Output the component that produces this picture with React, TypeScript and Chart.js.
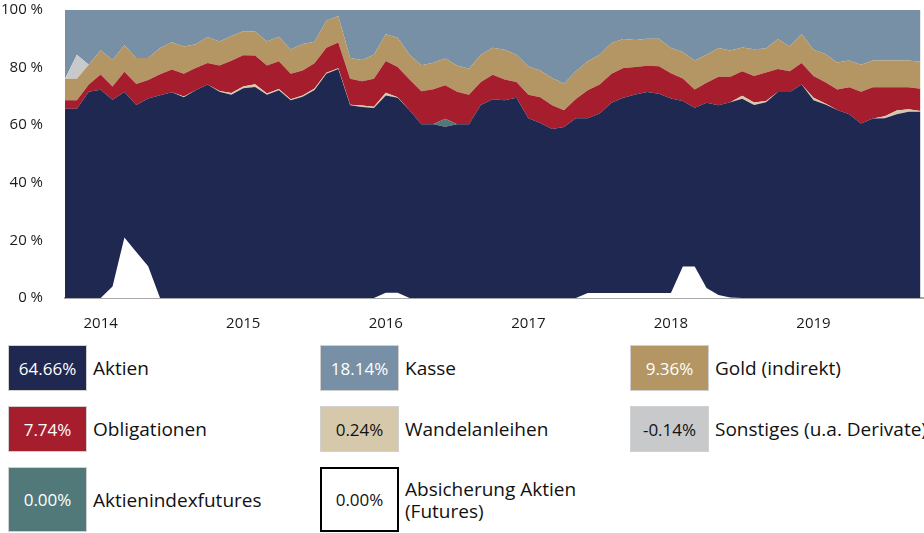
import React, { useEffect, useRef } from 'react';
import { Chart, registerables } from 'chart.js';

Chart.register(...registerables);

// Month-end observations, labelled by the following month start (first = Oct 2013)
const startYear = 2013;
const startMonth = 10;
const monthCount = 73;
const months: string[] = Array.from({ length: monthCount }, (_, i) => {
  const m = startMonth - 1 + i;
  return `${startYear + Math.floor(m / 12)}-${String((m % 12) + 1).padStart(2, '0')}`;
});

const aktien = [
  65.7, 65.7, 71.6, 72.3, 68.8, 71.5, 67.0, 69.3, 70.4, 71.4, 69.7, 72.1, 74.1,
  71.6, 70.6, 72.8, 73.3, 70.6, 72.1, 68.7, 69.9, 72.2, 77.9, 79.5, 66.9,
  66.3, 66.0, 70.3, 69.5, 65.2, 60.3, 60.3, 59.5, 60.3, 60.3, 67.0, 69.0,
  68.7, 69.5, 62.4, 60.8, 58.7, 59.4, 62.4, 62.4, 64.1, 67.8, 69.5, 70.7,
  71.5, 70.9, 69.3, 68.4, 66.1, 67.8, 66.9, 68.0, 69.2, 67.0, 68.0, 71.5,
  71.5, 74.1, 68.7, 67.2, 65.3, 63.8, 60.6, 62.3, 62.4, 63.8, 64.7, 64.66,
];
const wandelanleihen = [
  0, 0, 0, 0, 0, 0, 0, 0, 0, 0, 0.3, 0, 0,
  0.3, 0.6, 0.6, 0.9, 0.4, 0.5, 0.3, 0.4, 0.5, 0.3, 0.3, 0.2,
  0.5, 0.4, 1.0, 0.2, 0, 0, 0, 0, 0, 0, 0, 0,
  0, 0, 0, 0, 0, 0, 0, 0, 0, 0, 0, 0,
  0, 0, 0, 0, 0, 0, 0, 0, 1.0, 0.9, 0.4, 0,
  0, 0, 0.8, 0.3, 0, 0, 0, 0, 0.7, 1.3, 0.8, 0.24,
];
const aktienindexfutures = [
  0, 0, 0, 0, 0, 0, 0, 0, 0, 0, 0, 0, 0,
  0, 0, 0, 0, 0, 0, 0, 0, 0, 0, 0, 0,
  0, 0, 0, 0, 0, 0, 0, 2.7, 0, 0, 0, 0,
  0, 0, 0, 0, 0, 0, 0, 0, 0, 0, 0, 0,
  0, 0, 0, 0, 0, 0, 0, 0, 0, 0, 0, 0,
  0, 0, 0, 0, 0, 0, 0, 0, 0, 0, 0, 0,
];
const obligationen = [
  3.0, 3.0, 2.5, 5.3, 4.6, 7.1, 7.3, 6.4, 7.3, 7.9, 7.9, 7.8, 7.5,
  8.8, 11.2, 10.9, 10.0, 9.7, 9.6, 8.9, 8.7, 8.8, 8.7, 8.9, 9.0,
  8.5, 9.7, 11.0, 10.5, 10.7, 11.5, 12.2, 11.7, 11.3, 10.3, 8.0, 8.5,
  7.2, 5.5, 8.2, 8.9, 8.2, 5.8, 6.7, 9.7, 10.0, 10.1, 10.4, 9.5,
  9.1, 9.6, 8.7, 7.8, 6.3, 6.9, 9.9, 8.8, 8.5, 9.2, 9.9, 8.0,
  7.2, 7.5, 7.6, 7.4, 7.1, 9.4, 11.0, 10.9, 10.1, 8.1, 7.7, 7.74,
];
const gold = [
  7.4, 7.4, 6.9, 8.4, 9.2, 9.2, 9.0, 7.6, 9.1, 9.5, 9.4, 8.2, 9.0,
  8.4, 8.6, 8.3, 8.3, 8.4, 8.5, 8.4, 9.2, 7.5, 9.4, 9.2, 7.2,
  7.3, 8.4, 9.3, 10.2, 8.6, 9.0, 9.2, 9.3, 9.1, 9.0, 9.5, 9.4,
  10.3, 9.5, 9.8, 9.3, 9.5, 9.3, 9.6, 10.1, 10.4, 10.6, 10.0, 9.4,
  9.4, 9.5, 8.8, 9.2, 10.1, 9.8, 10.0, 9.1, 8.3, 9.3, 8.3, 10.4,
  8.6, 10.1, 9.1, 9.8, 9.4, 9.3, 9.4, 9.3, 9.3, 9.3, 9.3, 9.36,
];
const sonstiges = [
  0, 8.4, 0, 0, 0, 0, 0, 0, 0, 0, 0, 0, 0,
  0, 0, 0, 0, 0, 0, 0, 0, 0, 0, 0, 0,
  0, 0, 0, 0, 0, 0, 0, 0, 0, 0, 0, 0,
  0, 0, 0, 0, 0, 0, 0, 0, 0, 0, 0, 0,
  0, 0, 0, 0, 0, 0, 0, 0, 0, 0, 0, 0,
  0, 0, 0, 0, 0, 0, 0, 0, 0, 0, 0, 0,
];
const kasse = [
  23.9, 15.5, 19.0, 14.0, 17.4, 12.2, 16.7, 16.7, 13.2, 11.2, 12.7, 11.9, 9.4,
  10.9, 9.0, 7.4, 7.5, 10.9, 9.3, 13.7, 11.8, 11.0, 3.7, 2.1, 16.7,
  17.4, 15.5, 8.4, 9.6, 15.5, 19.2, 18.3, 16.8, 19.3, 20.4, 15.5, 13.1,
  13.8, 15.5, 19.6, 21.0, 23.6, 25.5, 21.3, 17.8, 15.5, 11.5, 10.1, 10.4,
  10.0, 10.0, 13.2, 14.6, 17.5, 15.5, 13.2, 14.1, 13.0, 13.6, 13.4, 10.1,
  12.7, 8.3, 13.8, 15.3, 18.2, 17.5, 19.0, 17.5, 17.5, 17.5, 17.5, 18.0,
];
const absicherung = [
  0, 0, 0, 0, 4.0, 21.0, 16.0, 11.0, 0, 0, 0, 0, 0,
  0, 0, 0, 0, 0, 0, 0, 0, 0, 0, 0, 0,
  0, 0, 1.8, 1.8, 0, 0, 0, 0, 0, 0, 0, 0,
  0, 0, 0, 0, 0, 0, 0, 1.7, 1.7, 1.7, 1.7, 1.7,
  1.7, 1.7, 1.7, 10.9, 10.9, 3.5, 1.0, 0.2, 0, 0, 0, 0,
  0, 0, 0, 0, 0, 0, 0, 0, 0, 0, 0, 0,
];

const yTicks = [0, 20, 40, 60, 80, 100];

// Legend
const legendLabels = [
  'Aktien', 'Kasse', 'Gold (indirekt)',
  'Obligationen', 'Wandelanleihen', 'Sonstiges (u.a. Derivate)',
  'Aktienindexfutures', 'Absicherung Aktien (Futures)',
];
const legendValues = ['64.66%', '18.14%', '9.36%', '7.74%', '0.24%', '-0.14%', '0.00%', '0.00%'];
const legendColors = ['#1f2850', '#7890a5', '#b39664', '#a61e2e', '#d6c9ab', '#c8c9cb', '#51797a', '#ffffff'];
const legendTextColors = ['#ffffff', '#ffffff', '#ffffff', '#ffffff', '#111111', '#111111', '#ffffff', '#111111'];

const C = {
  aktien: '#1f2850',
  wandel: '#d6c9ab',
  futures: '#51797a',
  oblig: '#a61e2e',
  gold: '#b39664',
  sonst: '#c8c9cb',
  kasse: '#7890a5',
};

const FONT = '"Open Sans", "DejaVu Sans", sans-serif';

function pts(values: number[]) {
  return values.map((v, i) => ({ x: i, y: v }));
}

function ChartArea() {
  const ref = useRef<HTMLCanvasElement | null>(null);
  useEffect(() => {
    if (!ref.current) return;
    const yearIdx = months.map((m, i) => (m.endsWith('-01') ? i : -1)).filter((i) => i >= 0);
    const base = { pointRadius: 0, borderWidth: 0, tension: 0 };
    const chart = new Chart(ref.current, {
      type: 'line',
      data: {
        datasets: [
          { ...base, label: 'Absicherung Aktien (Futures)', data: pts(absicherung), stack: 'hedge', backgroundColor: '#ffffff', borderColor: '#ffffff', fill: 'origin' },
          { ...base, label: 'Aktien', data: pts(aktien), stack: 'main', backgroundColor: C.aktien, borderColor: C.aktien, fill: 'origin' },
          { ...base, label: 'Wandelanleihen', data: pts(wandelanleihen), stack: 'main', backgroundColor: C.wandel, borderColor: C.wandel, fill: 1 },
          { ...base, label: 'Aktienindexfutures', data: pts(aktienindexfutures), stack: 'main', backgroundColor: C.futures, borderColor: C.futures, fill: 2 },
          { ...base, label: 'Obligationen', data: pts(obligationen), stack: 'main', backgroundColor: C.oblig, borderColor: C.oblig, fill: 3 },
          { ...base, label: 'Gold (indirekt)', data: pts(gold), stack: 'main', backgroundColor: C.gold, borderColor: C.gold, fill: 4 },
          { ...base, label: 'Sonstiges (u.a. Derivate)', data: pts(sonstiges), stack: 'main', backgroundColor: C.sonst, borderColor: C.sonst, fill: 5 },
          { ...base, label: 'Kasse', data: pts(kasse), stack: 'main', backgroundColor: C.kasse, borderColor: C.kasse, fill: 6 },
        ] as any,
      },
      options: {
        animation: false,
        responsive: false,
        devicePixelRatio: 1,
        layout: { padding: 0 },
        plugins: { legend: { display: false }, tooltip: { enabled: false } },
        scales: {
          x: {
            type: 'linear',
            min: 0,
            max: 72.3,
            grid: { display: false },
            border: { display: true, color: '#a8a8a8', width: 2 },
            afterBuildTicks: (s: any) => {
              s.ticks = yearIdx.map((v) => ({ value: v }));
            },
            afterFit: (s: any) => {
              s.height = 42;
            },
            ticks: {
              autoSkip: false,
              maxRotation: 0,
              padding: 9,
              color: '#1a1a1a',
              font: { family: FONT, size: 15 },
              callback: (v: any) => months[Math.round(Number(v))]?.slice(0, 4) ?? '',
            },
          },
          y: {
            stacked: true,
            min: 0,
            max: 100,
            grid: { display: false },
            border: { display: false },
            afterBuildTicks: (s: any) => {
              s.ticks = yTicks.map((v) => ({ value: v }));
            },
            afterFit: (s: any) => {
              s.width = 65;
            },
            ticks: {
              padding: 14,
              color: '#1a1a1a',
              font: { family: FONT, size: 15 },
              callback: (v: any) => `${v} %`,
            },
          },
        },
      },
    });
    return () => chart.destroy();
  }, []);
  return <canvas ref={ref} width={924} height={353} style={{ position: 'absolute', left: 0, top: -13, width: 924, height: 353 }} />;
}

const colLefts = [8, 320, 630];
const rowTops = [345, 406, 467];
const rowHeights = [46, 46, 65];

function Legend() {
  return (
    <>
      {legendLabels.map((label, i) => {
        const col = i % 3;
        const row = Math.floor(i / 3);
        const isHedge = i === 7;
        return (
          <div
            key={label}
            style={{
              position: 'absolute',
              left: colLefts[col],
              top: rowTops[row],
              height: rowHeights[row],
              display: 'flex',
              alignItems: 'center',
              fontFamily: FONT,
              whiteSpace: 'nowrap',
            }}
          >
            <div
              style={{
                boxSizing: 'border-box',
                width: 79,
                height: rowHeights[row],
                background: legendColors[i],
                color: legendTextColors[i],
                border: isHedge ? '2px solid #000' : '1px solid #d0d0d0',
                display: 'flex',
                alignItems: 'center',
                justifyContent: 'center',
                fontSize: 17,
              }}
            >
              {legendValues[i]}
            </div>
            <div
              style={{
                marginLeft: 6,
                fontSize: 19,
                color: '#111',
                lineHeight: '22px',
                whiteSpace: isHedge ? 'normal' : 'nowrap',
                width: isHedge ? 185 : undefined,
              }}
            >
              {label}
            </div>
          </div>
        );
      })}
    </>
  );
}

export default function App() {
  return (
    <div style={{ position: 'absolute', left: 0, top: 0, width: 924, height: 533, overflow: 'hidden', background: '#fff' }}>
      <ChartArea />
      <Legend />
    </div>
  );
}
